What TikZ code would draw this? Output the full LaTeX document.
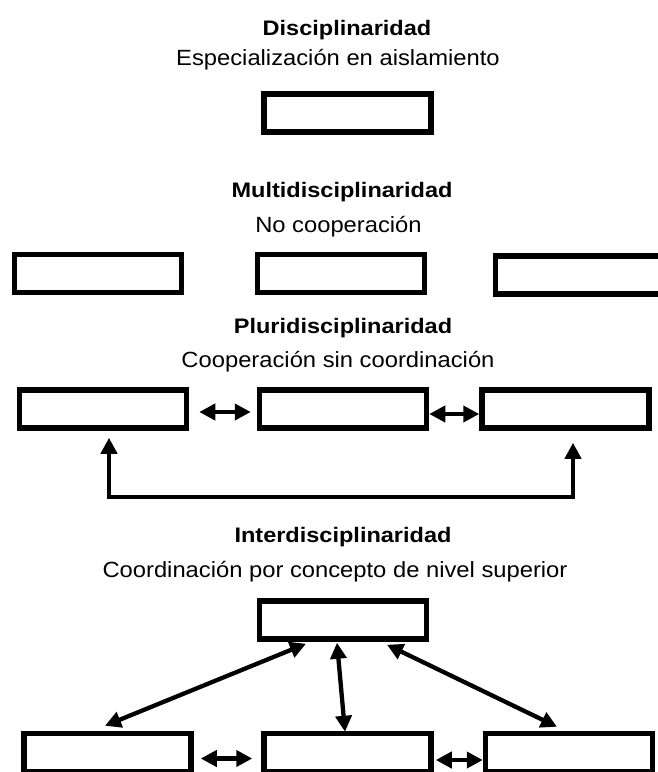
\documentclass[tikz,border=0pt]{standalone}
\usepackage{fontspec}
\setmainfont{Liberation Sans}[FakeStretch=1.08]
\newfontfamily\headfont{Liberation Sans}[FakeStretch=1.12]
\usetikzlibrary{arrows.meta}

\begin{document}
\begin{tikzpicture}[x=1pt,y=-1pt,
    discbox/.style={draw=black,fill=white,line width=5.5pt,minimum width=167pt,minimum height=38pt,inner sep=0pt},
    heading/.style={anchor=base,inner sep=0pt,font=\headfont\bfseries\fontsize{21}{24}\selectfont},
    subheading/.style={anchor=base,inner sep=0pt,font=\fontsize{22}{26}\selectfont}]
  \useasboundingbox (0,0) rectangle (657,772);

  % Disciplinaridad:
  \node[heading] (dtitle) at (347,35) {Disciplinaridad};
  \node[subheading] (dsub) at (338,65) {Especialización en aislamiento};
  \node[discbox] (d0) at (347.5,113) {};

  % Multidisciplinaridad:
  \node[heading] (mtitle) at (342,197) {Multidisciplinaridad};
  \node[subheading] (msub) at (338.5,232) {No cooperación};
  \node[discbox] (m1) at (98,273.5) {};
  \node[discbox] (m2) at (341,273.5) {};
  \node[discbox] (m3) at (579,275) {};

  % Pluridisciplinaridad:
  \node[heading] (ptitle) at (343,333) {Pluridisciplinaridad};
  \node[subheading] (psub) at (338,367) {Cooperación sin coordinación};
  \node[discbox] (p1) at (103,409) {};
  \node[discbox] (p2) at (343,409) {};
  \node[discbox] (p3) at (565.5,409) {};
  \coordinate (ploop) at (340,497);

  % Interdisciplinaridad:
  \node[heading] (ititle) at (343,542) {Interdisciplinaridad};
  \node[subheading] (isub) at (335,577) {Coordinación por concepto de nivel superior};
  \node[discbox] (i0) at (343,620) {};
  \node[discbox] (i1) at (107.5,752.5) {};
  \node[discbox] (i2) at (347.5,752.5) {};
  \node[discbox] (i3) at (569,752.5) {};

  \begin{scope}[line width=4.3pt,>={Triangle[length=16pt,width=16pt]}]
      % pluri:
      \draw[<->] ([yshift=-3pt]p1.east) ++(10,0) -- ([yshift=-3pt,xshift=-6pt]p2.west);
      \draw[<->] ([yshift=-5pt]p2.east) -- ([yshift=-5pt]p3.west);
      \draw[<->] ([xshift=6pt,yshift=-7pt]p1.south) |- (ploop) -| ([xshift=7.5pt,yshift=-12pt]p3.south);
      % inter:
      \draw[<->] ([xshift=-37pt,yshift=-2pt]i0.south) -- ([xshift=-2.5pt,yshift=5pt]i1.north);
      \draw[<->] ([xshift=-6pt,yshift=-1pt]i0.south) -- ([xshift=-2.5pt,yshift=-1pt]i2.north);
      \draw[<->] ([xshift=44pt,yshift=-3pt]i0.south) -- ([xshift=-12pt,yshift=4pt]i3.north);
      \draw[<->] ([yshift=-6pt,xshift=7pt]i1.east) -- ([yshift=-6pt,xshift=-9pt]i2.west);
      \draw[<->] ([yshift=-7.5pt,xshift=2pt]i2.east) -- ([yshift=-7.5pt]i3.west);
  \end{scope}
\end{tikzpicture}
\end{document}
